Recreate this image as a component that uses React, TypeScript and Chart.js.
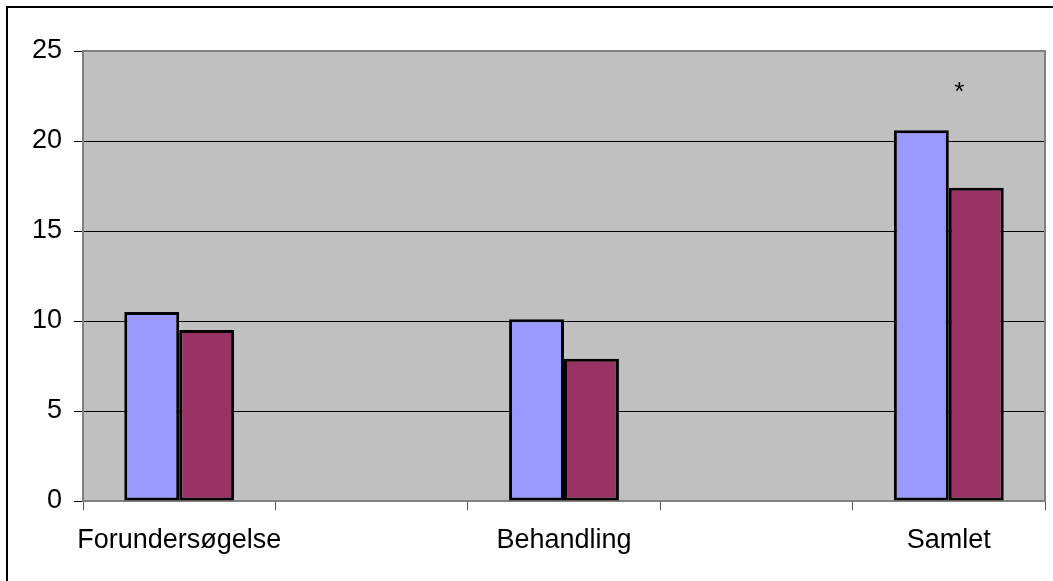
import React, { useEffect, useRef } from "react";
import { Chart, registerables } from "chart.js";

Chart.register(...registerables);

// Categories along the x axis (blank slots keep the groups spread apart)
const categories = ["Forundersøgelse", "", "Behandling", "", "Samlet"];

// Two series per category
const seriesBlue = [10.5, null, 10.1, null, 20.6];
const seriesPurple = [9.5, null, 7.9, null, 17.4];

// Y axis tick values
const yTicks = [0, 5, 10, 15, 20, 25];

// Significance marker above a category
const markers = [{ category: "Samlet", text: "*", value: 22.3 }];

const FONT = "'Liberation Sans', Arial, sans-serif";

const framePlugin = {
  id: "frameAndPlot",
  beforeDraw(chart: any) {
    const { ctx, chartArea } = chart;
    ctx.save();
    // outer frame (top and left edges visible)
    ctx.strokeStyle = "#000000";
    ctx.lineWidth = 2;
    ctx.strokeRect(7, 7, chart.width + 50, chart.height + 50);
    // plot area fill
    ctx.fillStyle = "#C0C0C0";
    ctx.fillRect(chartArea.left, chartArea.top, chartArea.right - chartArea.left, chartArea.bottom - chartArea.top);
    ctx.restore();
  },
  beforeDatasetsDraw(chart: any) {
    const { ctx, chartArea } = chart;
    ctx.save();
    ctx.strokeStyle = "#808080";
    ctx.lineWidth = 2;
    ctx.strokeRect(chartArea.left, chartArea.top, chartArea.right - chartArea.left, chartArea.bottom - chartArea.top);
    ctx.restore();
  },
  afterDatasetsDraw(chart: any) {
    const { ctx } = chart;
    const xs = chart.scales.x;
    const ys = chart.scales.y;
    const catWidth = (xs.right - xs.left) / categories.length;
    ctx.save();
    ctx.fillStyle = "#000000";
    ctx.font = `26px ${FONT}`;
    ctx.textAlign = "center";
    ctx.textBaseline = "alphabetic";
    markers.forEach((m) => {
      const idx = categories.indexOf(m.category);
      const x = xs.getPixelForValue(idx) + catWidth * 0.055;
      const y = ys.getPixelForValue(m.value);
      ctx.fillText(m.text, x, y);
    });
    ctx.restore();
  },
};

export default function App() {
  const canvasRef = useRef<HTMLCanvasElement | null>(null);

  useEffect(() => {
    if (!canvasRef.current) return;
    const chart = new Chart(canvasRef.current, {
      type: "bar",
      data: {
        labels: categories,
        datasets: [
          {
            label: "A",
            data: seriesBlue,
            backgroundColor: "#9999FF",
            borderColor: "#000000",
            borderWidth: 3,
            borderSkipped: false,
            categoryPercentage: 0.571,
            barPercentage: 1,
          },
          {
            label: "B",
            data: seriesPurple,
            backgroundColor: "#993366",
            borderColor: "#000000",
            borderWidth: 3,
            borderSkipped: false,
            categoryPercentage: 0.571,
            barPercentage: 1,
          },
        ],
      },
      options: {
        animation: false,
        responsive: false,
        maintainAspectRatio: false,
        layout: { padding: { top: 51, right: 8, left: 0, bottom: 0 } },
        plugins: {
          legend: { display: false },
          tooltip: { enabled: false },
        },
        scales: {
          x: {
            afterFit(scale: any) {
              scale.height = 80;
            },
            border: { display: false },
            grid: {
              display: true,
              offset: true,
              drawOnChartArea: false,
              drawTicks: true,
              tickLength: 9,
              tickColor: "#555555",
              tickWidth: 1,
            },
            ticks: {
              autoSkip: false,
              maxRotation: 0,
              minRotation: 0,
              padding: 14,
              color: "#000000",
              font: { family: FONT, size: 27 },
            },
          },
          y: {
            min: 0,
            max: 25,
            afterFit(scale: any) {
              scale.width = 83;
            },
            afterBuildTicks(scale: any) {
              scale.ticks = yTicks.map((v) => ({ value: v }));
            },
            border: { display: false },
            grid: {
              color: (c: any) =>
                c.tick && c.tick.value > 0 && c.tick.value < 25 ? "#000000" : "rgba(0,0,0,0)",
              lineWidth: 1,
              drawTicks: true,
              tickLength: 9,
              tickColor: "#000000",
              tickWidth: 1,
            },
            ticks: {
              padding: 12,
              color: "#000000",
              font: { family: FONT, size: 27 },
            },
          },
        },
      },
      plugins: [framePlugin],
    });
    return () => chart.destroy();
  }, []);

  return (
    <div style={{ position: "absolute", left: 0, top: 0, width: 1053, height: 581, background: "#ffffff" }}>
      <canvas ref={canvasRef} width={1053} height={581} style={{ display: "block" }} />
    </div>
  );
}
